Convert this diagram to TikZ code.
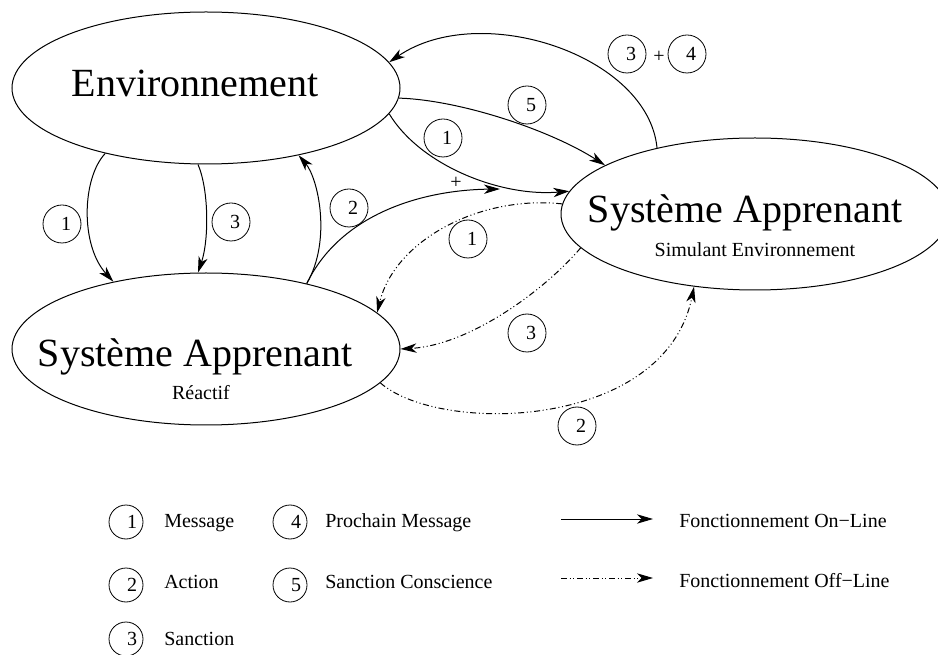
\documentclass[tikz,border=0pt]{standalone}
\usepackage{fontspec}
\setmainfont{Liberation Serif}
\usetikzlibrary{arrows.meta,shapes.geometric}
\begin{document}
\begin{tikzpicture}[x=0.75pt,y=-0.75pt,
  sysnode/.style={ellipse, draw, line width=0.75pt, minimum width=291pt, minimum height=114pt, inner sep=0pt},
  bigtxt/.style={font=\fontsize{30}{36}\selectfont, inner sep=0pt, anchor=base},
  smalltxt/.style={font=\fontsize{15}{18}\selectfont, inner sep=0pt, anchor=base},
  num/.style={circle, draw, line width=0.6pt, minimum size=28.5pt, inner sep=0pt, font=\fontsize{15}{18}\selectfont},
  lnum/.style={num, minimum size=25.5pt},
  flow/.style={line width=0.75pt, -{Stealth[length=12pt,width=7pt,inset=3.5pt]}},
  offline/.style={flow, dash pattern=on 4.5pt off 2pt on 0.75pt off 2pt on 0.75pt off 2pt},
]
\useasboundingbox (0,0) rectangle (938,655);

% main ellipses
\node[sysnode] (env) at (206,88) {};
\node[sysnode] (reac) at (206,349) {};
\node[sysnode] (simu) at (755,214) {};

\node[bigtxt] (envt) at (195,97) {Environnement};
\node[bigtxt] (react) at (195,367) {Système Apprenant};
\node[smalltxt] (reacs) at (201,400) {Réactif};
\node[bigtxt] (simut) at (745,223) {Système Apprenant};
\node[smalltxt] (simus) at (755,257) {Simulant Environnement};

% on-line connectors
\draw[flow] (env.-147) .. controls (82,178) and (80,245) .. (reac.144);
\draw[flow] (env.-96) .. controls (209,190) and (209,240) .. (reac.96);
\draw[flow] (reac.33) .. controls (332,240) and (318,178) .. (env.-36);
\coordinate (merge) at (500,189);
\draw[flow] (reac.33) .. controls (340,215) and (420,190) .. (merge);
\draw[flow] (env.-8) .. controls (420,165) and (500,197) .. (simu.173);
\draw[flow] (env.-3) .. controls (460,100) and (550,130) .. (simu.162);
\draw[flow] (simu.146) .. controls (648,55) and (480,0) .. (env.8);

% off-line connectors
\draw[offline] (simu.177) .. controls (480,195) and (395,240) .. (reac.12);
\draw[offline] (simu.191) .. controls (545,290) and (470,345) .. (reac.0);
\draw[offline] (reac.-11) .. controls (440,435) and (665,430) .. (simu.-130);

% labels on connectors
\node[num] (c1a) at (62,224) {\kern6pt1};
\node[num] (c3a) at (231,222) {\kern6pt3};
\node[num] (c2a) at (349,208) {\kern6pt2};
\node[num] (c1b) at (443,138) {\kern6pt1};
\node[num] (c5) at (527,105) {\kern6pt5};
\node[num] (c3b) at (627,54) {\kern6pt3};
\node[smalltxt, anchor=center] (plus34) at (659,57) {+};
\node[num] (c4) at (687,54) {\kern6pt4};
\node[smalltxt, anchor=center] (plusm) at (456,183) {+};
\node[num] (d1) at (468,239) {\kern6pt1};
\node[num] (d3) at (527,333) {\kern6pt3};
\node[num] (d2) at (577,426) {\kern6pt2};

% legend
\node[lnum] (l1) at (126,522) {\kern9pt1};
\node[smalltxt, anchor=base west] (l1t) at (164,527) {Message};
\node[lnum] (l2) at (126,585) {\kern9pt2};
\node[smalltxt, anchor=base west] (l2t) at (164,588) {Action};
\node[lnum] (l3) at (126,639) {\kern9pt3};
\node[smalltxt, anchor=base west] (l3t) at (164,645) {Sanction};
\node[lnum] (l4) at (290,522) {\kern9pt4};
\node[smalltxt, anchor=base west] (l4t) at (325,527) {Prochain Message};
\node[lnum] (l5) at (290,585) {\kern9pt5};
\node[smalltxt, anchor=base west] (l5t) at (325,588) {Sanction Conscience};

\coordinate (ona) at (561,519);
\coordinate (onb) at (653,519);
\draw[flow] (ona) -- (onb);
\node[smalltxt, anchor=base west] (ont) at (679,527) {Fonctionnement On−Line};
\coordinate (offa) at (561,578);
\coordinate (offb) at (653,578);
\draw[offline] (offa) -- (offb);
\node[smalltxt, anchor=base west] (offt) at (679,587) {Fonctionnement Off−Line};
\end{tikzpicture}
\end{document}
